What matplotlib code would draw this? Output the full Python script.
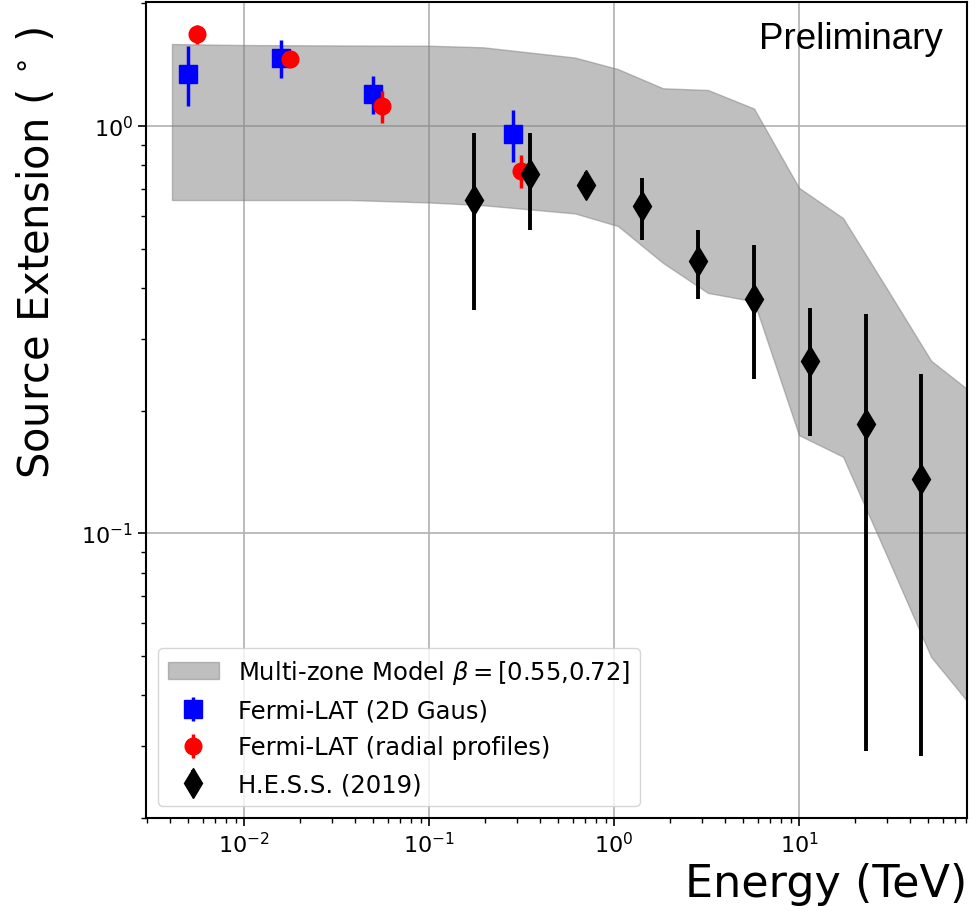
import numpy as np
import matplotlib
matplotlib.use("Agg")
import matplotlib.pyplot as plt
from matplotlib.ticker import NullFormatter

# ---- Data ----
# Multi-zone model band
band_E = [0.00408, 0.01, 0.0374, 0.1, 0.196, 0.615, 1.05, 1.84, 3.22, 5.71, 10.0, 17.3, 29.9, 51.8, 80.9]
band_hi = [1.590, 1.581, 1.577, 1.575, 1.561, 1.473, 1.380, 1.238, 1.226, 1.104, 0.705, 0.594, 0.398, 0.265, 0.226]
band_lo = [0.658, 0.658, 0.658, 0.649, 0.639, 0.610, 0.568, 0.461, 0.389, 0.371, 0.174, 0.154, 0.0878, 0.0496, 0.0387]

# Fermi-LAT (2D Gaus)
gaus_E = [0.00498, 0.0158, 0.050, 0.283]
gaus_y = [1.342, 1.467, 1.196, 0.956]
gaus_lo = [0.222, 0.157, 0.128, 0.142]
gaus_hi = [0.231, 0.163, 0.128, 0.137]

# Fermi-LAT (radial profiles)
rad_E = [0.0056, 0.01766, 0.0559, 0.313]
rad_y = [1.68, 1.461, 1.118, 0.775]
rad_err = [0.09, 0.05, 0.10, 0.072]

# H.E.S.S. (2019)
hess_E = [0.176, 0.352, 0.706, 1.42, 2.84, 5.70, 11.44, 22.9, 45.9]
hess_y = [0.658, 0.761, 0.718, 0.637, 0.465, 0.375, 0.265, 0.185, 0.136]
hess_top = [0.962, 0.962, 0.772, 0.747, 0.555, 0.509, 0.357, 0.345, 0.246]
hess_bot = [0.354, 0.556, 0.665, 0.525, 0.376, 0.239, 0.1735, 0.0291, 0.0283]

# ---- Plot ----
fig = plt.figure(figsize=(9.79, 9.12), dpi=100)
ax = fig.add_axes([146/979, 1 - 819/912, (967-146)/979, (819-3)/912])

ax.fill_between(band_E, band_lo, band_hi, color='grey', alpha=0.5,
                label=r'Multi-zone Model $\beta = [0.55{,}0.72]$', zorder=2)

ax.errorbar(gaus_E, gaus_y, yerr=[gaus_lo, gaus_hi], fmt='s', color='blue',
            markersize=12.5, elinewidth=2.5, capsize=0, label='Fermi-LAT (2D Gaus)', zorder=3)
ax.errorbar(rad_E, rad_y, yerr=rad_err, fmt='o', color='red',
            markersize=12, elinewidth=2.5, capsize=0, label='Fermi-LAT (radial profiles)', zorder=4)
hess_lo = np.array(hess_y) - np.array(hess_bot)
hess_hi = np.array(hess_top) - np.array(hess_y)
ax.errorbar(hess_E, hess_y, yerr=[hess_lo, hess_hi], fmt='d', color='black',
            markersize=15, elinewidth=2.8, capsize=0, label='H.E.S.S. (2019)', zorder=5)

ax.set_xscale('log')
ax.set_yscale('log')
ax.set_xlim(0.002953, 80.9)
ax.set_ylim(0.01995, 2.017)
ax.yaxis.set_minor_formatter(NullFormatter())
ax.xaxis.set_minor_formatter(NullFormatter())

ax.grid(True, which='major', color='#b0b0b0', linewidth=1.2, zorder=1)
ax.set_axisbelow(True)

for s in ax.spines.values():
    s.set_linewidth(1.5)
ax.tick_params(which='major', length=6, width=1.2, labelsize=16)
ax.tick_params(which='minor', length=3.5, width=1)

ax.set_xlabel('Energy (TeV)', fontsize=32, loc='right')
ax.set_ylabel(r'Source Extension ( $^{\circ}$ )', fontsize=30, loc='top')
ax.yaxis.set_label_coords(-0.107, 0.97)

ax.text(0.97, 0.955, 'Preliminary', transform=ax.transAxes, ha='right', va='center',
        fontsize=26.5, family='Liberation Sans')

ax.legend(loc='lower left', fontsize=17.5, bbox_to_anchor=(0.0, 0.0), borderpad=0.4,
          handlelength=2.1, labelspacing=0.52)

fig.savefig('out.png', dpi=100)
